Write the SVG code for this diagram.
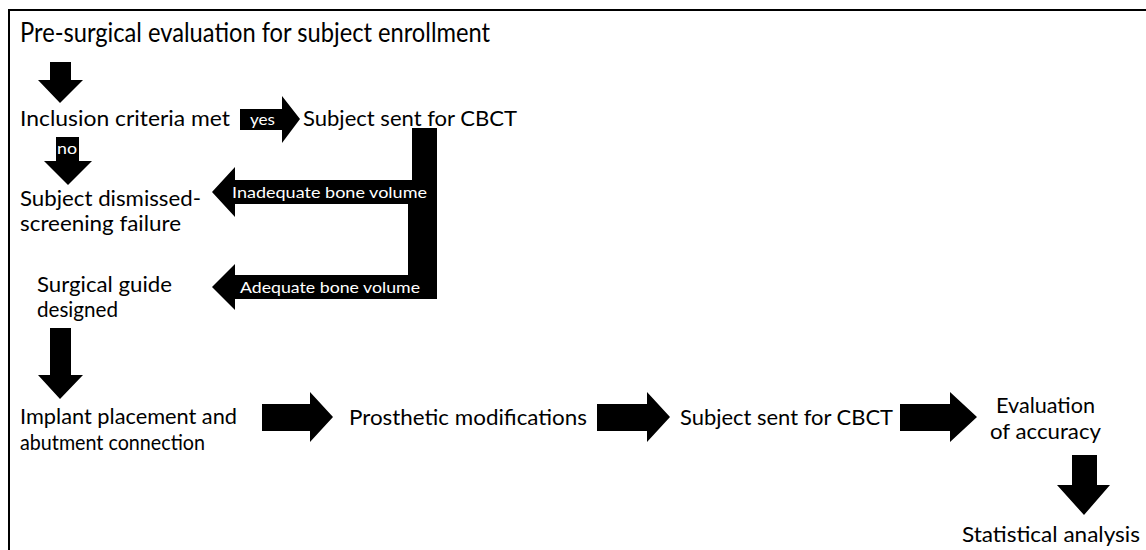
<svg xmlns="http://www.w3.org/2000/svg" width="1146" height="550" viewBox="0 0 1146 550">
<style>
  .t { font-family: Lato, "Open Sans", "Liberation Sans", sans-serif; font-size: 21px; fill: #000; }
  .title { font-size: 26px; }
  .lbl { font-family: Lato, "Open Sans", "Liberation Sans", sans-serif; font-size: 16px; fill: #fff; }
  .arr { fill: #000; stroke: none; }
</style>
<rect width="1146" height="550" fill="#fff"/>
<path d="M9,551 V10 H1147" fill="none" stroke="#000" stroke-width="2"/>

<g id="n-title"><text class="t title" x="20" y="42" textLength="470" lengthAdjust="spacingAndGlyphs">Pre-surgical evaluation for subject enrollment</text></g>
<g id="n-inclusion"><text class="t" x="20" y="126" textLength="210" lengthAdjust="spacingAndGlyphs">Inclusion criteria met</text></g>
<g id="n-cbct1"><text class="t" x="303" y="126" textLength="214" lengthAdjust="spacingAndGlyphs">Subject sent for CBCT</text></g>
<g id="n-dismissed">
  <text class="t" x="20" y="206" textLength="181" lengthAdjust="spacingAndGlyphs">Subject dismissed-</text>
  <text class="t" x="20" y="231" textLength="161" lengthAdjust="spacingAndGlyphs">screening failure</text>
</g>
<g id="n-guide">
  <text class="t" x="37" y="292" textLength="135" lengthAdjust="spacingAndGlyphs">Surgical guide</text>
  <text class="t" x="37" y="317" textLength="81" lengthAdjust="spacingAndGlyphs">designed</text>
</g>
<g id="n-implant">
  <text class="t" x="20" y="424" textLength="217" lengthAdjust="spacingAndGlyphs">Implant placement and</text>
  <text class="t" x="20" y="450" textLength="185" lengthAdjust="spacingAndGlyphs">abutment connection</text>
</g>
<g id="n-prosthetic"><text class="t" x="349" y="425" textLength="238" lengthAdjust="spacingAndGlyphs">Prosthetic modifications</text></g>
<g id="n-cbct2"><text class="t" x="680" y="425" textLength="213" lengthAdjust="spacingAndGlyphs">Subject sent for CBCT</text></g>
<g id="n-evaluation">
  <text class="t" x="996" y="413" textLength="99" lengthAdjust="spacingAndGlyphs">Evaluation</text>
  <text class="t" x="990" y="439" textLength="111" lengthAdjust="spacingAndGlyphs">of accuracy</text>
</g>
<g id="n-stats"><text class="t" x="962" y="542" textLength="178" lengthAdjust="spacingAndGlyphs">Statistical analysis</text></g>

<g id="connectors">
  <polygon class="arr" points="50,62 71,62 71,80 83,80 60,103 38,80 50,80"/>
  <polygon class="arr" points="240,109 282,109 282,96 300,119 282,143 282,130 240,130"/>
  <polygon class="arr" points="56,137 79,137 79,161 92,161 68,185 44,161 56,161"/>
  <polygon class="arr" points="408,180 437,180 437,299 235,299 235,310 212,287 235,264 235,275 408,275"/>
  <polygon class="arr" points="412,128 437,128 437,204 235,204 235,217 212,192 235,167 235,180 412,180"/>
  <polygon class="arr" points="50,328 71,328 71,375 83,375 60,399 38,375 50,375"/>
  <polygon class="arr" points="262,404 310,404 310,392 333,417 310,442 310,431 262,431"/>
  <polygon class="arr" points="597,404 647,404 647,392 670,417 647,442 647,431 597,431"/>
  <polygon class="arr" points="900,404 950,404 950,392 977,417 950,442 950,431 900,431"/>
  <polygon class="arr" points="1072,455 1097,455 1097,485 1110,485 1084,515 1057,485 1072,485"/>
  <text class="lbl" x="250" y="125" textLength="25" lengthAdjust="spacingAndGlyphs">yes</text>
  <text class="lbl" x="57" y="154" textLength="20" lengthAdjust="spacingAndGlyphs">no</text>
  <text class="lbl" x="232" y="198" textLength="195" lengthAdjust="spacingAndGlyphs">Inadequate bone volume</text>
  <text class="lbl" x="240" y="293" textLength="180" lengthAdjust="spacingAndGlyphs">Adequate bone volume</text>
</g>
</svg>
